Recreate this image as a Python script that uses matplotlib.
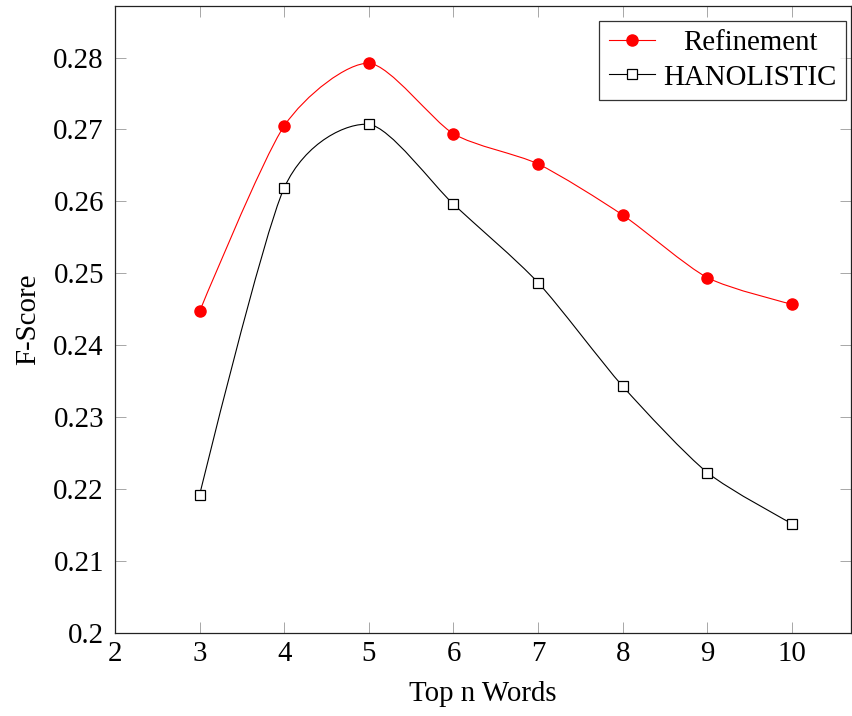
"""F-Score vs. number of top words, pgfplots-like smooth curves."""
import matplotlib
matplotlib.use("Agg")
import matplotlib.pyplot as plt
import numpy as np
from matplotlib.path import Path
from matplotlib.patches import PathPatch
from matplotlib.lines import Line2D

FS = 20.8
plt.rcParams.update({
    "font.family": "serif",
    "font.serif": ["Liberation Serif", "DejaVu Serif"],
    "mathtext.fontset": "stix",
    "font.size": FS,
})

top_n = [3, 4, 5, 6, 7, 8, 9, 10]
refinement = [0.2447, 0.2705, 0.2792, 0.2694, 0.2652, 0.2581, 0.2494, 0.2457]
hanolistic = [0.2192, 0.2619, 0.2707, 0.2596, 0.2487, 0.2343, 0.2223, 0.2152]
y_ticks = [0.20, 0.21, 0.22, 0.23, 0.24, 0.25, 0.26, 0.27, 0.28]
x_ticks = [2, 3, 4, 5, 6, 7, 8, 9, 10]


def smooth_path(xs, ys, k=0.125):
    """Cubic Bezier path through the points (cardinal spline, open ends)."""
    p = np.column_stack([xs, ys]).astype(float)
    n = len(p)
    verts = [p[0]]
    codes = [Path.MOVETO]
    for i in range(n - 1):
        c1 = p[i] if i == 0 else p[i] + k * (p[i + 1] - p[i - 1])
        c2 = p[i + 1] if i == n - 2 else p[i + 1] - k * (p[i + 2] - p[i])
        verts += [c1, c2, p[i + 1]]
        codes += [Path.CURVE4] * 3
    return Path(verts, codes)


fig = plt.figure(figsize=(8.52, 7.16), dpi=100)
ax = fig.add_axes([0.135, 0.116, 0.864, 0.875])

series = [
    ("Refinement", refinement, "red", dict(marker="o", ms=8, mfc="red", mec="red")),
    ("HANOLISTIC", hanolistic, "black", dict(marker="s", ms=7, mfc="white", mec="black", mew=0.9)),
]
handles = []
for name, vals, col, mk in series:
    ax.add_patch(PathPatch(smooth_path(top_n, vals), fc="none", ec=col, lw=0.8, zorder=2))
    ax.plot(top_n, vals, ls="none", zorder=3, **mk)
    handles.append(Line2D([], [], color=col, lw=0.8, label=name, **mk))

ax.set_xlim(2, 10.7)
ax.set_ylim(0.2, 0.2871)
ax.set_xticks(x_ticks)
ax.set_yticks(y_ticks)
ax.set_yticklabels([f"{round(v, 2):g}" for v in y_ticks])
ax.tick_params(direction="in", top=True, right=True, length=8, width=0.6,
               color="#999999", labelsize=FS)
ax.tick_params(axis="x", pad=6)
ax.tick_params(axis="y", pad=8)
for s in ax.spines.values():
    s.set_linewidth(0.9)
    s.set_color("#222222")

ax.set_xlabel("Top n Words", fontsize=FS, labelpad=10)
ax.set_ylabel("F-Score", fontsize=FS, labelpad=9)

leg = ax.legend(handles=handles, loc="upper right", bbox_to_anchor=(0.9932, 0.9772),
                fontsize=FS, handlelength=1.6, handletextpad=0.3, borderaxespad=0,
                borderpad=0.32, labelspacing=0.28, fancybox=False)
leg.get_frame().set_edgecolor("black")
leg.get_frame().set_linewidth(0.9)

# centre the shorter legend entry within the text column
fig.canvas.draw()
r = fig.canvas.get_renderer()
widths = [t.get_window_extent(r).width for t in leg.get_texts()]
wmax = max(widths)
for t, w in zip(leg.get_texts(), widths):
    t.set_x((wmax - w) / 2)

fig.savefig("out.png", dpi=100, facecolor="white")
